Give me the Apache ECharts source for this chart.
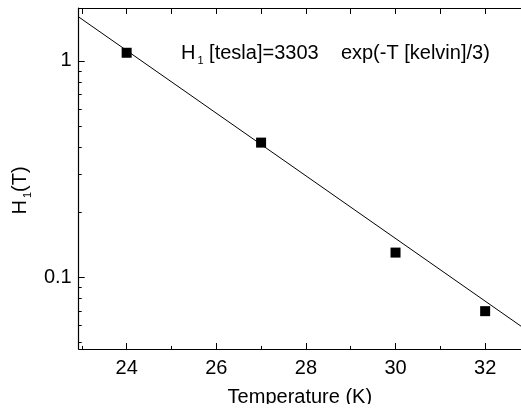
<!DOCTYPE html>
<html>
<head>
<meta charset="utf-8">
<script src="https://cdn.jsdelivr.net/npm/echarts@6/dist/echarts.min.js"></script>
<style>
  * { margin: 0; padding: 0; }
  body { background: #fff; }
</style>
</head>
<body>
<div id="main" style="width: 521px;height: 412px;"></div>
<script>
  // measured points
  var temps = [24, 27, 30, 32];
  var h1 = [1.09, 0.419, 0.130, 0.0697];
  // fit line, read at the two plot edges
  var fitT = [22.93, 32.8];
  var fitH = [1.595, 0.0594];
  // ticks
  var xMajor = [24, 26, 28, 30, 32];
  var xMinor = [23, 25, 27, 29, 31];
  var xTop = [23, 24, 25, 26, 27, 28, 29, 30, 31, 32];
  var yMajor = [0.1, 1];
  var yMinor = [0.05, 0.06, 0.07, 0.08, 0.09, 0.2, 0.3, 0.4, 0.5, 0.6, 0.7, 0.8, 0.9];

  var font = 'Liberation Sans, Arial, sans-serif';
  var xMin = 22.93, xMax = 32.8;
  var yMin = 0.0466, yMax = 1.755;

  var myChart = echarts.init(document.getElementById('main'));

  // axis that only draws extra ticks
  function tickAxis(extra) {
    var base = {
      axisLine: { show: false },
      axisLabel: { show: false },
      splitLine: { show: false }
    };
    return Object.assign(base, extra);
  }

  // rich styles for "H" with subscript 1
  function subRich(size) {
    return {
      a: { fontSize: size, fontFamily: font, color: '#000', lineHeight: 28 },
      s: { fontSize: 11, fontFamily: font, color: '#000', lineHeight: 10, padding: [14, 0, 0, 2] }
    };
  }

  var option = {
    animation: false,
    grid: { left: 78, top: 8, right: 0, bottom: 62 },
    xAxis: [
      {
        type: 'value', position: 'bottom', min: xMin, max: xMax,
        axisLine: { lineStyle: { color: '#000', width: 1.2 } },
        axisTick: { inside: true, length: 6, customValues: xMajor, lineStyle: { color: '#000' } },
        axisLabel: { customValues: xMajor, color: '#000', fontSize: 20, fontFamily: font, margin: 9 },
        splitLine: { show: false },
        name: 'Temperature (K)', nameLocation: 'middle', nameGap: 38,
        nameTextStyle: { color: '#000', fontSize: 20, fontFamily: font }
      },
      tickAxis({ type: 'value', position: 'bottom', min: xMin, max: xMax,
        axisTick: { show: true, inside: true, length: 3, customValues: xMinor, lineStyle: { color: '#000' } } }),
      tickAxis({ type: 'value', position: 'top', min: xMin, max: xMax,
        axisLine: { show: true, lineStyle: { color: '#000', width: 1.2 } },
        axisTick: { show: true, inside: true, length: 6, customValues: xTop, lineStyle: { color: '#000' } } })
    ],
    yAxis: [
      {
        type: 'log', logBase: 10, position: 'left', min: yMin, max: yMax,
        axisLine: { show: true, lineStyle: { color: '#000', width: 1.2 } },
        axisTick: { inside: true, length: 6, customValues: yMajor, lineStyle: { color: '#000' } },
        axisLabel: { customValues: yMajor, color: '#000', fontSize: 20, fontFamily: font, margin: 7 },
        splitLine: { show: false },
        name: '{a|H}{s|1}{a|(T)}', nameLocation: 'middle', nameGap: 40, nameRotate: 90,
        nameTextStyle: {
          color: '#000', fontFamily: font, padding: [0, 24, 0, 0],
          rich: subRich(20)
        }
      },
      tickAxis({ type: 'log', logBase: 10, position: 'left', min: yMin, max: yMax,
        axisTick: { show: true, inside: true, length: 3, customValues: yMinor, lineStyle: { color: '#000' } } })
    ],
    graphic: [
      {
        type: 'text', left: 181, top: 41,
        style: {
          text: '{a|H}{s|1}{a| [tesla]=3303    exp(-T [kelvin]/3)}',
          rich: subRich(20)
        }
      },
      // the source picture is cut off just under the axis title
      { type: 'rect', left: 0, top: 404, shape: { width: 521, height: 8 }, style: { fill: '#fff' }, z: 100 }
    ],
    series: [
      {
        type: 'line', xAxisIndex: 0, yAxisIndex: 0,
        data: fitT.map(function (t, i) { return [t, fitH[i]]; }),
        showSymbol: false, lineStyle: { color: '#000', width: 1 }
      },
      {
        type: 'scatter', xAxisIndex: 0, yAxisIndex: 0,
        data: temps.map(function (t, i) { return [t, h1[i]]; }),
        symbol: 'rect', symbolSize: 10, itemStyle: { color: '#000', opacity: 1 }
      }
    ]
  };
  myChart.setOption(option);
</script>
</body>
</html>
